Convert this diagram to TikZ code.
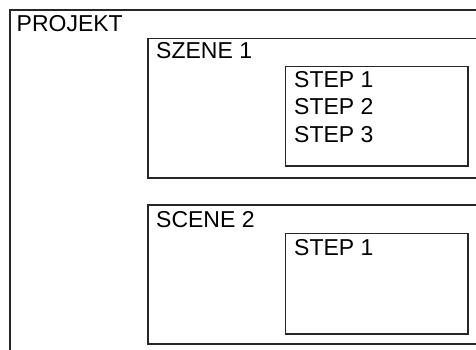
\documentclass[tikz,border=0pt]{standalone}
\usepackage{fontspec}
\setmainfont{Liberation Sans}
\usepackage{tikz}

\begin{document}
\begin{tikzpicture}[x=1pt,y=-1pt,
    box/.style={draw=black!85,line width=1.3pt},
    lbl/.style={anchor=base west,inner sep=0pt,font=\fontsize{23}{27.5}\selectfont}]
    \useasboundingbox (0,0) rectangle (476,349);
    \clip (0,0) rectangle (476,349);
    % projekt
    \draw[box] (10,10) rectangle (520,380);
    \node[lbl] (projekt) at (16.5,31) {PROJEKT};
    % scene 1
    \draw[box] (148,38.5) rectangle (520,178);
    \node[lbl] (szene1) at (156,58) {SZENE 1};
    \draw[box] (285.5,66.5) rectangle (468,166);
    \node[lbl] (s1step1) at (294,87) {STEP 1};
    \node[lbl] (s1step2) at (294,114.5) {STEP 2};
    \node[lbl] (s1step3) at (294,142) {STEP 3};
    % scene 2
    \draw[box] (148,205) rectangle (520,344);
    \node[lbl] (scene2) at (156,227) {SCENE 2};
    \draw[box] (285.5,233.5) rectangle (468,334);
    \node[lbl] (s2step1) at (294,255) {STEP 1};
\end{tikzpicture}
\end{document}
